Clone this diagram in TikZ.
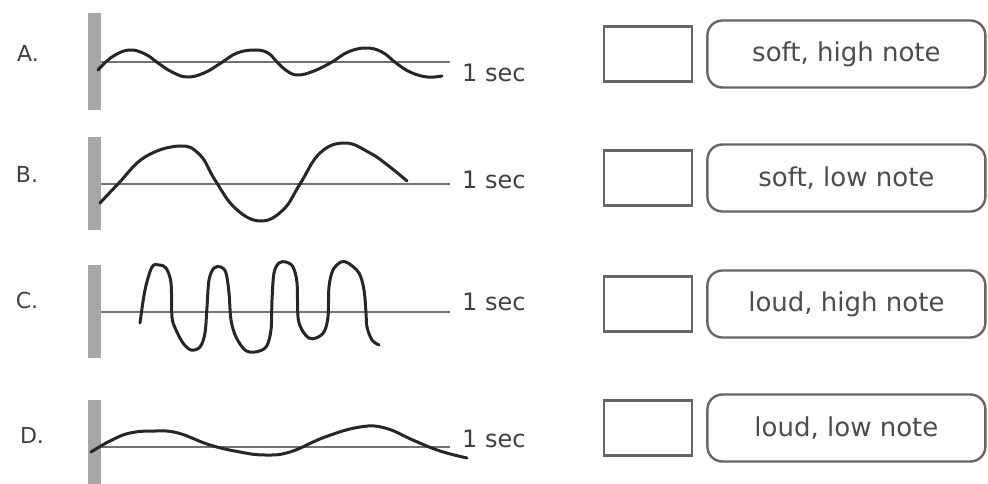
\documentclass[tikz,border=0pt]{standalone}
\usepackage{fontspec}
\setmainfont{DejaVu Sans}
\usepackage{tikz}
\usetikzlibrary{positioning}

\tikzset{
  wave/.style={line width=3pt, black!85, line join=round, line cap=round},
  timeaxis/.style={line width=2.8pt, black!55},
  timebar/.style={fill=black!35, draw=none},
  secnote/.style={font=\fontsize{24}{26}\selectfont, text=black!75, anchor=west, inner sep=0pt},
  rowlabel/.style={font=\fontsize{22}{24}\selectfont, text=black!75, inner sep=0pt},
  tickbox/.style={draw=black!60, line width=2.4pt, minimum width=88pt, minimum height=55pt, inner sep=0pt},
  answer/.style={draw=black!60, line width=2.4pt, rounded corners=15pt, minimum width=278pt,
    minimum height=67pt, inner sep=0pt, font=\fontsize{26}{28}\selectfont, text=black!70},
}

\begin{document}
\begin{tikzpicture}[x=1pt, y=-1pt]
\useasboundingbox (0,0) rectangle (988,484);

% row letters
\node[rowlabel] (labA) at (28,53) {A.};
\node[rowlabel] (labB) at (27,174) {B.};
\node[rowlabel] (labC) at (27,300) {C.};
\node[rowlabel] (labD) at (32,435) {D.};

% start bars, time axes and the 1 sec marks
\foreach \r/\top/\bot/\ax/\sy in {A/13/110/62/73, B/137/230/184/180, C/265/358/312/302, D/400/484/447/439} {
  \fill[timebar] (88,\top) rectangle (101,\bot);
  \draw[timeaxis] (101,\ax) -- (450,\ax);
  \node[secnote] (sec\r) at (462,\sy) {1 sec};
}

% A: small amplitude, short period
\draw[wave] plot[smooth, tension=0.7] coordinates {(98,70) (112,57) (129,50) (145,54) (158,63)
  (172,72) (187,77) (204,73) (221,63) (237,53) (255,50) (268,53) (277,62) (287,71) (298,75) (314,71)
  (332,62) (348,52) (366,48) (382,52) (396,63) (410,72) (427,77) (442,76)};

% B: large amplitude, long period
\draw[wave] plot[smooth, tension=0.7] coordinates {(100,203) (118,184) (145,157) (180,146)
  (200,155) (215,180) (235,208) (260,221) (283,210) (300,184) (320,153) (345,143) (370,153)
  (390,167) (407,181)};

% C: large amplitude, short period
\draw[wave] plot[smooth, tension=0.55] coordinates {(140,323) (145,290) (152,267) (159,265) (166,268)
  (171,283) (172,317) (176,330) (183,343) (191,350) (200,347) (205,333) (207,307) (209,280) (214,268)
  (221,267) (226,273) (229,293) (231,320) (236,337) (245,350) (255,352) (266,347) (271,330) (272,300)
  (274,273) (279,263) (286,262) (293,267) (297,283) (298,317) (302,330) (309,338) (316,338) (324,332)
  (328,317) (329,287) (333,270) (341,262) (348,263) (359,273) (364,290) (366,313) (367,327) (372,340)
  (379,345)};

% D: small amplitude, long period
\draw[wave] plot[smooth, tension=0.7] coordinates {(91,452) (110,441) (130,433) (155,431)
  (178,433) (210,445) (240,452) (265,455) (290,452) (325,437) (360,427) (385,428) (415,441)
  (440,451) (467,458)};

% answer boxes
\foreach \r/\y/\txt in {A/54/{soft, high note}, B/178/{soft, low note}, C/304/{loud, high note}, D/428/{loud, low note}} {
  \node[tickbox] (box\r) at (648,\y) {};
  \node[answer, right=13pt of box\r] (ans\r) {\txt};
}
\end{tikzpicture}
\end{document}
